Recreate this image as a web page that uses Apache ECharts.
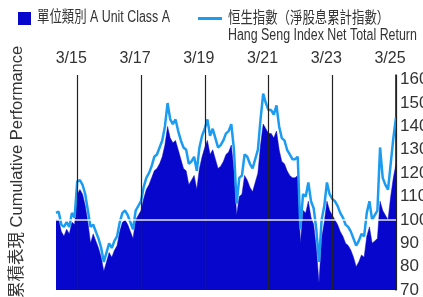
<!DOCTYPE html>
<html>
<head>
<meta charset="utf-8">
<script src="https://cdn.jsdelivr.net/npm/echarts@6/dist/echarts.min.js"></script>
<style>
  html, body { margin: 0; padding: 0; background: #fff; }
  #chart { width: 423px; height: 297px; }
</style>
</head>
<body>
<div id="chart"></div>
<script>
// monthly points, 2014-07 .. 2025-03
const startYear = 2014
const startMonth = 7
const pointCount = 129

// 單位類別 A (area)
const fundValues = [
  100, 100, 95, 93, 96, 94, 99, 98, 111, 113, 111, 106, 99, 90, 94, 91,
  88, 84, 78, 82, 86, 84, 87, 89, 95, 99, 100, 98, 95, 92, 100, 102,
  104, 109, 113, 115, 118, 121, 122, 124, 127, 132, 140, 135, 133, 134, 130, 126,
  122, 121, 115, 117, 119, 113, 122, 127, 131, 134, 128, 130, 126, 122, 123, 125,
  128, 129, 132, 121, 102, 110, 111, 119, 117, 114, 112, 116, 120, 132, 141, 139,
  137, 137, 135, 138, 130, 125, 124, 121, 119, 118, 118, 119, 90, 104, 103, 108,
  101, 98, 88, 73, 92, 99, 108, 104, 102, 100, 98, 95, 93, 90, 89, 87,
  84, 80, 82, 85, 84, 93, 97, 90, 91, 92, 108, 104, 102, 100, 110, 118,
  124
]

// 恒生指數（淨股息累計指數）(line)
const indexValues = [
  103, 103.5, 98, 97, 99, 97, 103, 101, 116.5, 117, 115, 111, 104, 97, 98, 95,
  92, 88, 82, 86, 90, 88, 91, 93, 99, 103, 104, 102, 99, 96, 104, 106,
  108, 114, 118, 120, 123, 127, 128, 131, 134, 140, 150, 143, 141, 143, 138, 134,
  131, 130, 124, 125, 127, 121, 131, 136, 139, 143, 136, 139, 135, 131, 132, 134,
  137, 138, 141, 130, 107, 118, 119, 128, 127, 124, 122, 126, 130, 143, 154, 150,
  147, 147, 145, 149, 140, 135, 134, 130, 128, 126, 126, 127, 96, 111, 110, 116,
  108, 105, 96, 82, 100, 106, 116, 111, 109, 108, 106, 103, 101, 98, 97, 95,
  92, 89, 91, 94, 93, 103, 108, 100, 102, 104, 131, 118, 115, 113, 124, 135,
  144
]

const markMonths = ['2015-03', '2017-03', '2019-03', '2021-03', '2023-03', '2025-03']
const yTicks = [70, 80, 90, 100, 110, 120, 130, 140, 150, 160]

const fundName = '單位類別 A Unit Class A'
const indexName = '恒生指數（淨股息累計指數）'
const indexNameEn = 'Hang Seng Index Net Total Return'
const yTitle = '累積表現 Cumulative Performance'

const months = []
for (let i = 0; i < pointCount; i++) {
  const m = startMonth - 1 + i
  const y = startYear + Math.floor(m / 12)
  const mm = (m % 12) + 1
  months.push(`${y}-${mm < 10 ? '0' + mm : mm}`)
}

const darkBlue = '#0606cc'
const lightBlue = '#1c9cf0'
const textColor = '#333333'
const font = '"Liberation Sans", "Noto Sans CJK TC", Arial, sans-serif'

const chart = echarts.init(document.getElementById('chart'), null, { renderer: 'canvas' })

const markData = markMonths.map(m => ({
  xAxis: m,
  lineStyle: { color: '#222', width: 1.2, type: 'solid' }
}))
markData.push({
  yAxis: 100,
  lineStyle: { color: '#ffffff', width: 1.5, type: 'solid', opacity: 0.9 }
})

chart.setOption({
  animation: false,
  grid: { left: 56, right: 27, top: 75, bottom: 7, outerBoundsMode: 'none', containLabel: false },
  xAxis: {
    type: 'category',
    position: 'top',
    boundaryGap: false,
    data: months,
    axisLine: { show: false },
    axisTick: { show: false },
    splitLine: { show: false },
    axisLabel: {
      interval: (idx, val) => markMonths.indexOf(val) >= 0,
      formatter: val => `3/${val.slice(2, 4)}`,
      fontFamily: font,
      fontSize: 16,
      color: textColor,
      margin: 8,
      padding: [0, 12, 0, 0]
    }
  },
  yAxis: {
    type: 'value',
    position: 'right',
    min: 70,
    max: 162,
    interval: 10,
    axisLine: { show: true, lineStyle: { color: '#111', width: 1.5 } },
    axisTick: { show: false },
    splitLine: { show: false },
    axisLabel: {
      formatter: v => (yTicks.indexOf(v) >= 0 ? String(v) : ''),
      fontFamily: font,
      fontSize: 17,
      color: textColor,
      margin: 4
    }
  },
  series: [
    {
      name: fundName,
      type: 'line',
      data: fundValues,
      showSymbol: false,
      lineStyle: { width: 0.5, color: darkBlue },
      areaStyle: { color: darkBlue, opacity: 1, origin: 'start' },
      z: 2,
      markLine: {
        silent: true,
        symbol: 'none',
        label: { show: false },
        data: markData
      }
    },
    {
      name: indexName,
      type: 'line',
      data: indexValues,
      showSymbol: false,
      lineStyle: { width: 2.5, color: lightBlue },
      z: 3
    }
  ],
  graphic: [
    { type: 'rect', x: 18, y: 12, shape: { width: 13, height: 13 }, style: { fill: darkBlue } },
    {
      type: 'text', x: 37, y: 10, scaleX: 0.775,
      style: { text: fundName, fontFamily: font, fontSize: 16, fill: textColor }
    },
    { type: 'rect', x: 198, y: 17, shape: { width: 24, height: 3 }, style: { fill: lightBlue } },
    {
      type: 'text', x: 228, y: 10, scaleX: 0.775,
      style: { text: indexName + '\n' + indexNameEn, fontFamily: font, fontSize: 16, lineHeight: 17, fill: textColor }
    },
    {
      type: 'text', x: 9, y: 298, rotation: Math.PI / 2,
      style: { text: yTitle, fontFamily: font, fontSize: 16.5, fill: textColor, textAlign: 'left', textVerticalAlign: 'top' }
    }
  ]
})
</script>
</body>
</html>
